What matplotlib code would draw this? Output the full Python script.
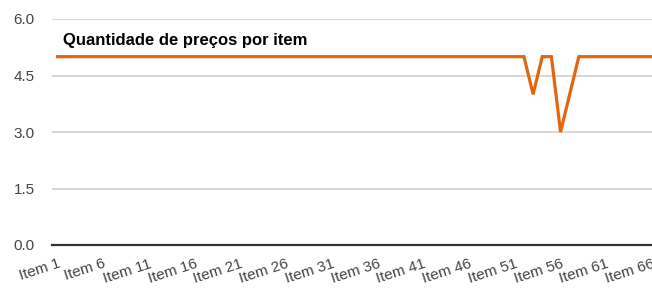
import matplotlib
matplotlib.use("Agg")
import matplotlib.pyplot as plt

plt.rcParams['font.family'] = ['Liberation Sans', 'DejaVu Sans']

items = [f"Item {i}" for i in range(1, 67)]
values = [5] * 66
values[52] = 4   # Item 53
values[55] = 3   # Item 56
values[56] = 4   # Item 57
title = "Quantidade de preços por item"
yticks = [0.0, 1.5, 3.0, 4.5, 6.0]

fig = plt.figure(figsize=(6.52, 2.91), dpi=100)
ax = fig.add_axes([52/652, 1 - 245/291, 1 - 52/652, (245 - 19)/291])

x = list(range(1, len(items) + 1))
ax.plot(x, values, color='#e3660e', lw=2.3, solid_joinstyle='miter', zorder=3, clip_on=False)

ax.set_ylim(0, 6)
ax.set_xlim(0.4, 65.95)
ax.set_yticks(yticks)
ax.set_yticklabels([f"{v:.1f}" for v in yticks], fontsize=11, color='#444444')
ax.yaxis.grid(True, color='#cccccc', lw=1.1)
ax.set_axisbelow(True)
for s in ['top', 'right', 'left']:
    ax.spines[s].set_visible(False)
ax.spines['bottom'].set_color('#333333')
ax.spines['bottom'].set_linewidth(1.6)
ax.tick_params(axis='y', length=0, pad=12.5)
ax.tick_params(axis='x', length=0, pad=8.5)

tick_pos = x[::5]
ax.set_xticks(tick_pos)
ax.set_xticklabels(items[::5], rotation=18, ha='right', va='top', rotation_mode='anchor',
                   fontsize=11, color='#444444')

ax.text(63/652, 1 - 40/291, title, transform=fig.transFigure, fontsize=12,
        fontweight='bold', color='#000000', va='center', ha='left')

fig.savefig("out.png", dpi=100)
